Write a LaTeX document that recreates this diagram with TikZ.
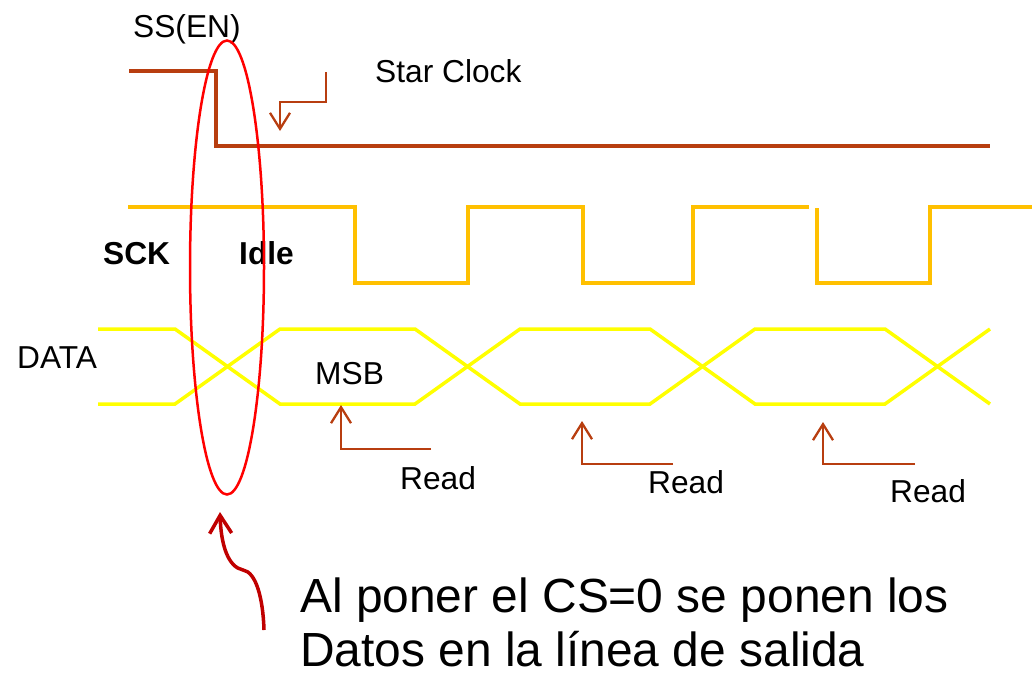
\documentclass[tikz,border=0pt]{standalone}
\usepackage{fontspec}
\setmainfont{Liberation Sans}
\usetikzlibrary{arrows.meta}
\definecolor{ssbrown}{RGB}{184,62,16}
\definecolor{sckorange}{RGB}{255,192,0}
\definecolor{datayellow}{RGB}{255,255,0}
\definecolor{ellred}{RGB}{255,0,0}
\definecolor{darkred}{RGB}{192,0,0}
\tikzset{
  lbl/.style={anchor=base west,inner sep=0pt,font=\fontsize{31.7}{38}\selectfont},
  boldlbl/.style={lbl,font=\fontsize{31.7}{38}\selectfont\bfseries},
  bigtxt/.style={anchor=base west,inner sep=0pt,text depth=0pt,font=\fontsize{47.9}{57}\selectfont},
  ssline/.style={draw=ssbrown,line width=3.5pt},
  sckline/.style={draw=sckorange,line width=3.8pt},
  dataline/.style={draw=datayellow,line width=3.5pt},
  markarrow/.style={draw=ssbrown,line width=2.3pt,-{Straight Barb[length=16pt,width=20pt,line width=2.3pt]}},
  callout/.style={draw=darkred,line width=3.5pt,-{Straight Barb[length=18pt,width=22pt,line width=3.5pt]}},
}
\begin{document}
\begin{tikzpicture}[x=1pt,y=-1pt]
\useasboundingbox (0,0) rectangle (1032,673);
% SS(EN)
\draw[ssline] (129,71) -- (216,71) -- (216,146) -- (990,146);
\node[lbl] (ss) at (133,37) {SS(EN)};
\node[lbl] (star) at (375,82) {Star Clock};
\coordinate (sc1) at (326,72);
\coordinate (sc2) at (326,102);
\coordinate (sc3) at (280,102);
\coordinate (sc4) at (280,131);
\draw[markarrow] (sc1) -- (sc2) -- (sc3) -- (sc4);
% SCK
\draw[sckline] (128,207) -- (355,207) -- (355,283) -- (468,283) -- (468,207) -- (583,207)
  -- (583,283) -- (693,283) -- (693,207) -- (809,207);
\draw[sckline] (817,208) -- (817,283) -- (930,283) -- (930,207) -- (1032,207);
\node[boldlbl] (sck) at (103,264) {SCK};
\node[boldlbl] (idle) at (239,264) {Idle};
% DATA
\draw[dataline] (98,329) -- (175,329) -- (280,404) -- (415,404) -- (520,329) -- (650,329)
  -- (755,404) -- (885,404) -- (990,329);
\draw[dataline] (98,404) -- (175,404) -- (280,329) -- (415,329) -- (520,404) -- (650,404)
  -- (755,329) -- (885,329) -- (990,404);
\node[lbl] (data) at (17,368) {DATA};
\node[lbl] (msb) at (315,384) {MSB};
% Read arrows
\coordinate (r1a) at (431,449); \coordinate (r1b) at (341,449); \coordinate (r1c) at (341,405);
\draw[markarrow] (r1a) -- (r1b) -- (r1c);
\node[lbl] (read1) at (400,489) {Read};
\coordinate (r2a) at (673,464); \coordinate (r2b) at (582,464); \coordinate (r2c) at (582,421);
\draw[markarrow] (r2a) -- (r2b) -- (r2c);
\node[lbl] (read2) at (648,493) {Read};
\coordinate (r3a) at (915,464); \coordinate (r3b) at (823,464); \coordinate (r3c) at (823,422);
\draw[markarrow] (r3a) -- (r3b) -- (r3c);
\node[lbl] (read3) at (890,502) {Read};
% ellipse
\draw[ellred,line width=2.5pt] (227,267.5) ellipse [x radius=37, y radius=227];
% callout
\coordinate (cstart) at (264,630);
\coordinate (cmid) at (243,570);
\coordinate (ctip) at (220,512);
\draw[callout] (cstart) .. controls (263,598) and (256,572) .. (cmid)
  .. controls (228,567) and (221,545) .. (ctip);
\node[bigtxt] (note1) at (300,612) {Al poner el CS=0 se ponen los};
\node[bigtxt] (note2) at (300,666) {Datos en la línea de salida};
\end{tikzpicture}
\end{document}
